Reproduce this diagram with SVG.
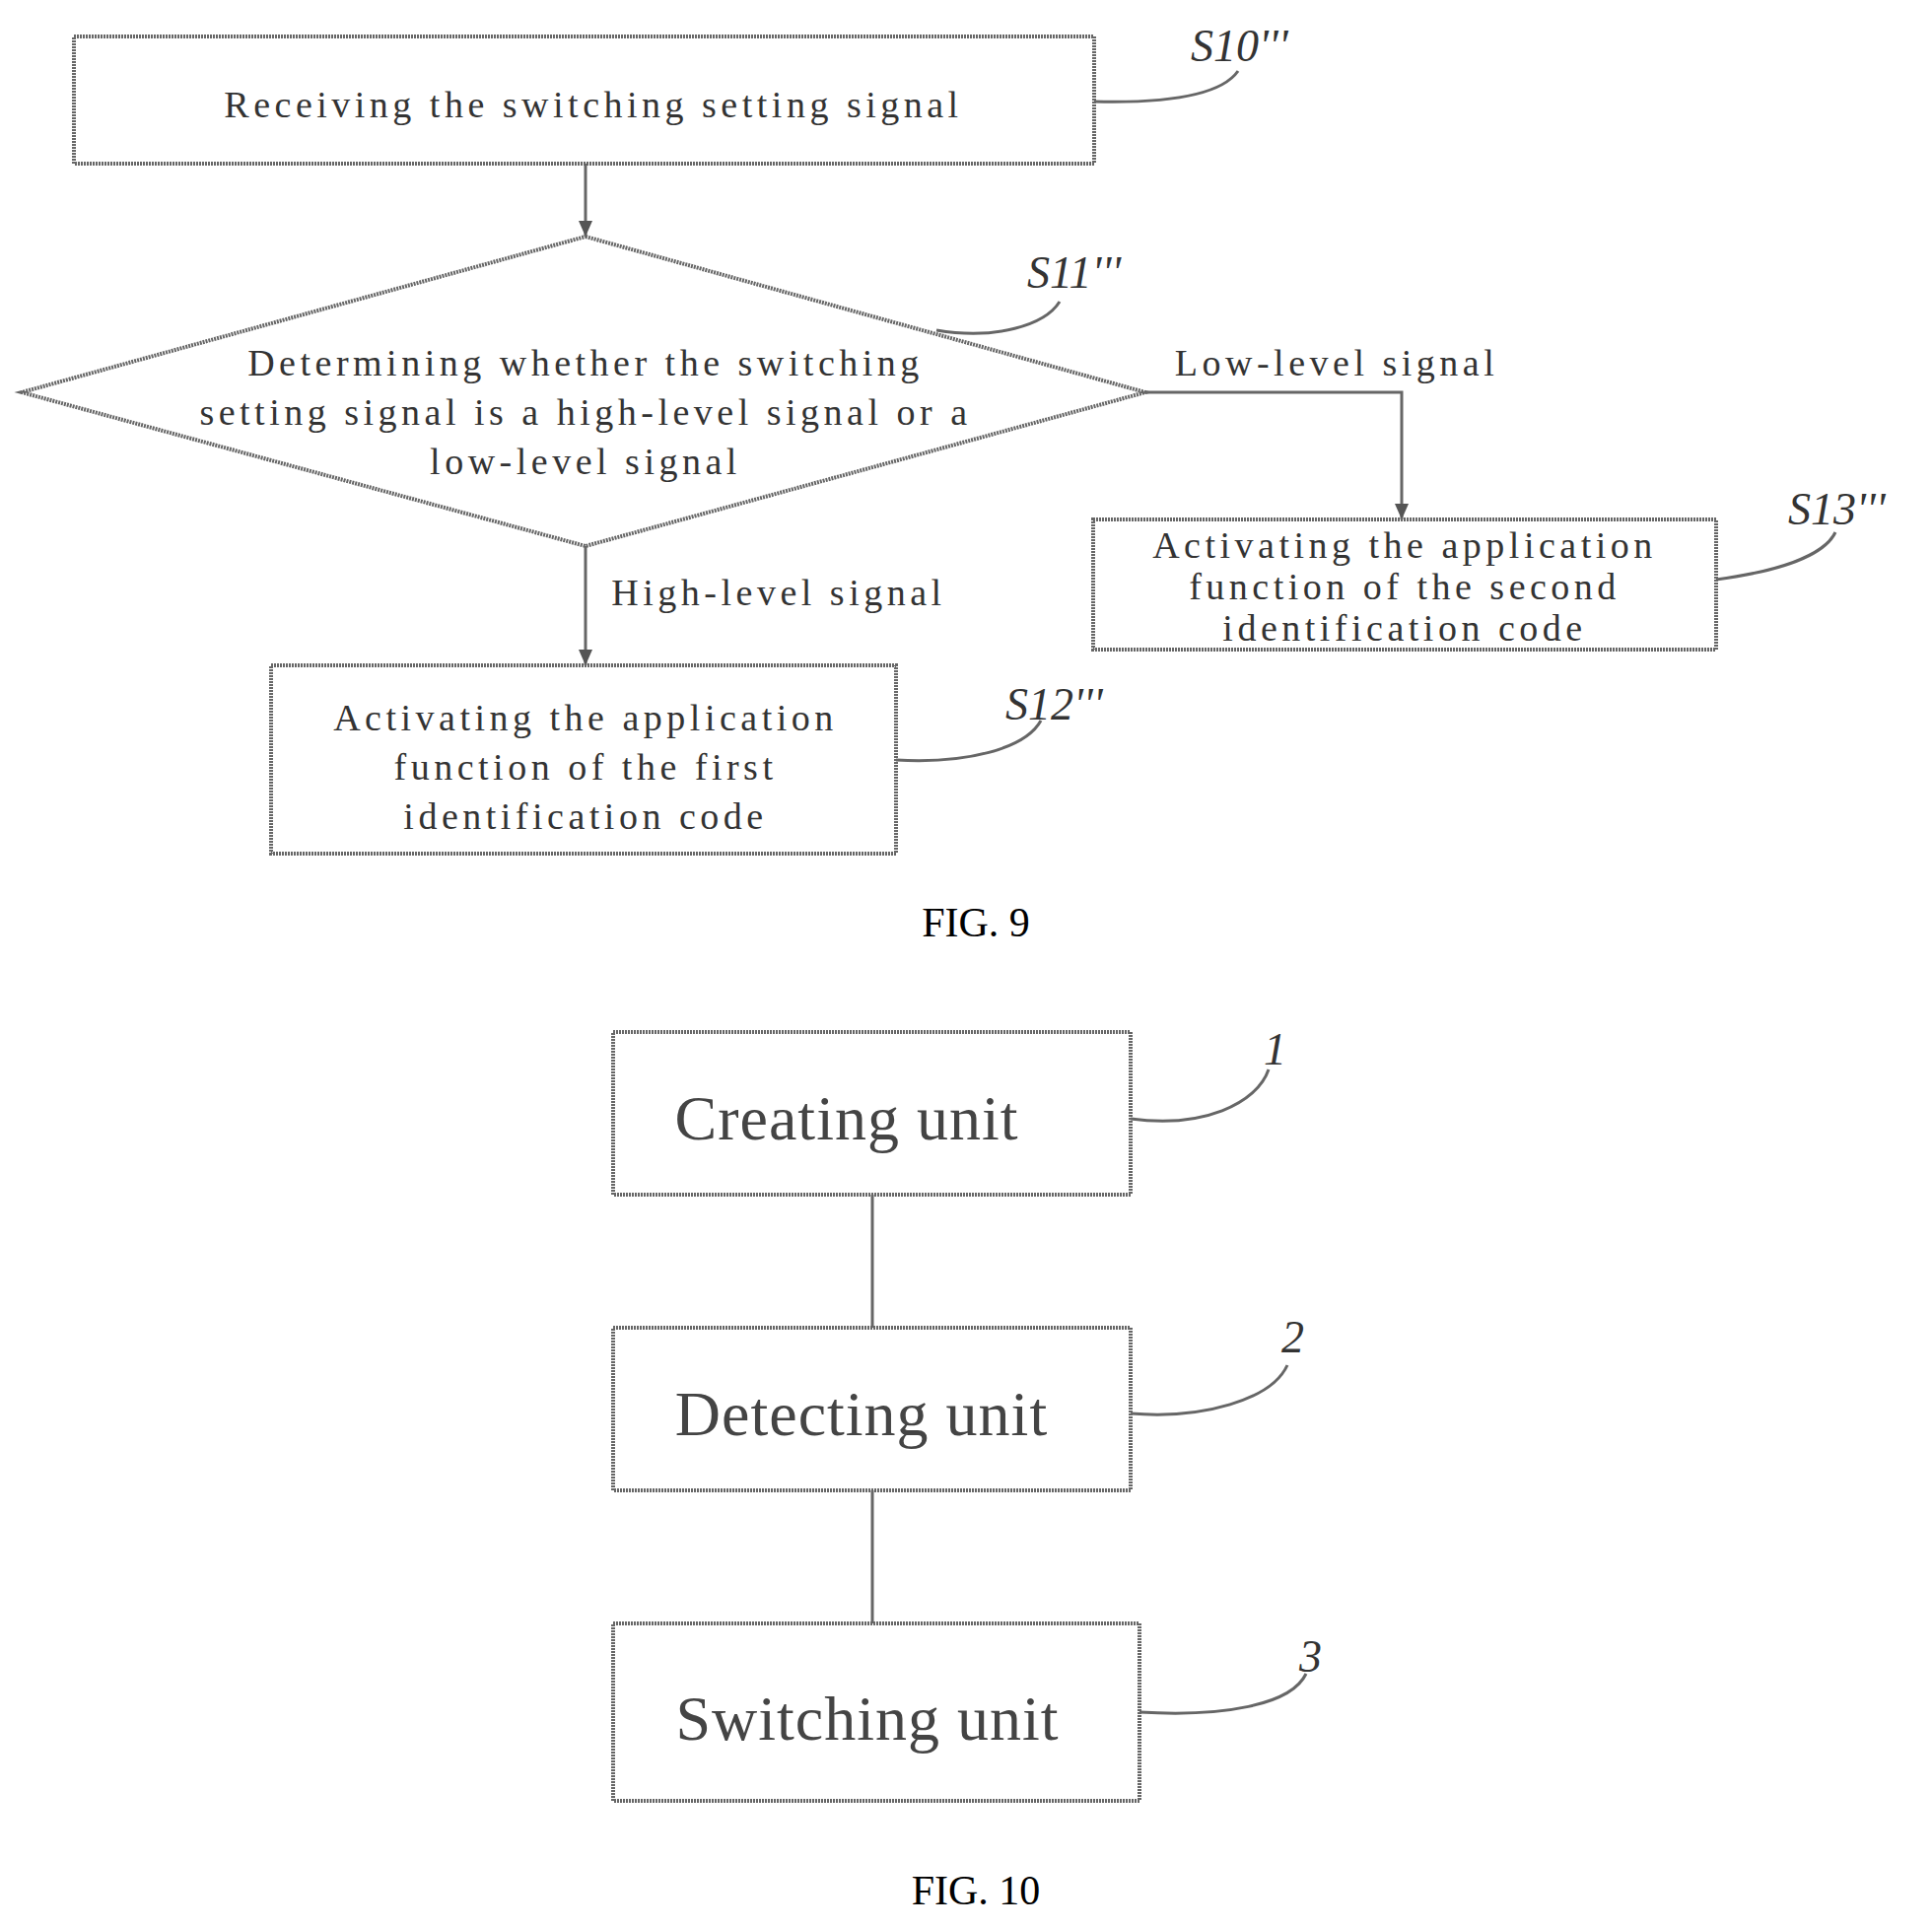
<svg xmlns="http://www.w3.org/2000/svg" width="1960" height="1956" viewBox="0 0 1960 1956">
<style>
.b{fill:none;stroke:#666;stroke-width:4;stroke-dasharray:2 1}
.c{fill:none;stroke:#666;stroke-width:3}
.t{font-family:"Liberation Serif",serif;font-size:38px;fill:#333;text-anchor:middle;letter-spacing:4.5px}
.l{font-family:"Liberation Serif",serif;font-size:46px;fill:#333;font-style:italic}
.u{font-family:"Liberation Serif",serif;font-size:64px;fill:#444;text-anchor:middle;letter-spacing:1px}
.f{font-family:"Liberation Serif",serif;font-size:42px;fill:#000;text-anchor:middle}
</style>
<defs><marker id="a2" markerWidth="18" markerHeight="18" refX="16" refY="9" orient="auto" markerUnits="userSpaceOnUse"><path d="M0,2 L16,9 L0,16 z" fill="#555"/></marker></defs>
<g id="connectors">
<path class="c" d="M594,166 V240" marker-end="url(#a2)"/>
<path class="c" d="M1162,398 H1422 V527" marker-end="url(#a2)"/>
<path class="c" d="M594,554 V675" marker-end="url(#a2)"/>
<path class="c" d="M885,1212 V1347"/>
<path class="c" d="M885,1512 V1647"/>
<path class="c" d="M1110,103 C1190,105 1240,95 1256,72"/>
<path class="c" d="M950,335 C1010,345 1060,330 1075,306"/>
<path class="c" d="M1741,588 C1800,580 1850,565 1862,540"/>
<path class="c" d="M909,771 C980,775 1040,760 1056,731"/>
<path class="c" d="M1147,1135 C1220,1145 1275,1120 1287,1085"/>
<path class="c" d="M1147,1434 C1220,1440 1290,1420 1306,1385"/>
<path class="c" d="M1156,1737 C1240,1742 1310,1730 1325,1698"/>
</g>
<g id="s10"><rect class="b" x="75" y="37" width="1035" height="129"/><text class="t" x="602" y="119">Receiving the switching setting signal</text><text class="l" x="1208" y="62">S10'''</text></g>
<g id="s11"><polygon class="b" points="594,240 1162,398 594,554 22,398"/>
<text class="t" x="594" y="381">Determining whether the switching</text>
<text class="t" x="594" y="431">setting signal is a high-level signal or a</text>
<text class="t" x="594" y="481">low-level signal</text>
<text class="l" x="1042" y="292">S11'''</text>
<text class="t" x="1356" y="381">Low-level signal</text>
<text class="t" x="790" y="614">High-level signal</text></g>
<g id="s13"><rect class="b" x="1109" y="527" width="632" height="132"/>
<text class="t" x="1425" y="566">Activating the application</text>
<text class="t" x="1425" y="608">function of the second</text>
<text class="t" x="1425" y="650">identification code</text>
<text class="l" x="1814" y="532">S13'''</text></g>
<g id="s12"><rect class="b" x="275" y="675" width="634" height="191"/>
<text class="t" x="594" y="741">Activating the application</text>
<text class="t" x="594" y="791">function of the first</text>
<text class="t" x="594" y="841">identification code</text>
<text class="l" x="1020" y="730">S12'''</text></g>
<text class="f" x="990" y="950">FIG. 9</text>
<g id="u1"><rect class="b" x="622" y="1047" width="525" height="165"/><text class="u" x="859" y="1156">Creating unit</text><text class="l" x="1282" y="1080">1</text></g>
<g id="u2"><rect class="b" x="622" y="1347" width="525" height="165"/><text class="u" x="874" y="1456">Detecting unit</text><text class="l" x="1300" y="1372">2</text></g>
<g id="u3"><rect class="b" x="622" y="1647" width="534" height="180"/><text class="u" x="880" y="1765">Switching unit</text><text class="l" x="1318" y="1696">3</text></g>
<text class="f" x="990" y="1932">FIG. 10</text>
</svg>
